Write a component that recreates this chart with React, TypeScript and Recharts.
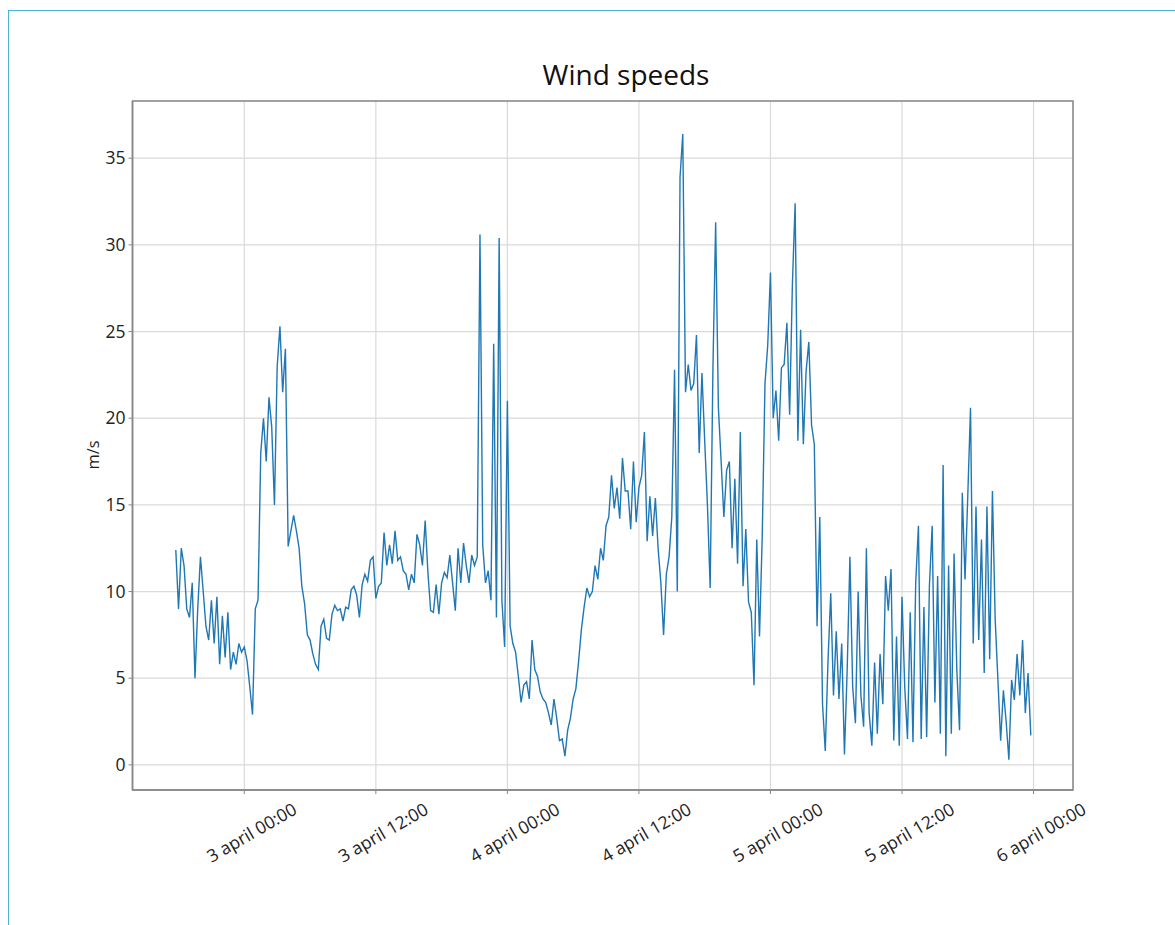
import { CartesianGrid, Line, LineChart, ReferenceArea, XAxis, YAxis } from "recharts";

// wind speed samples, one every 15 minutes, hours counted from 3 april 00:00
const startHour = -6.25;
const stepHours = 0.25;

const apr2Evening = [
  12.4, 9.0, 12.5, 11.5, 9.0, 8.5, 10.5, 5.0, 9.0, 12.0, 10.0, 8.0, 7.2, 9.5, 7.0, 9.7,
  5.8, 8.6, 6.2, 8.8, 5.5, 6.5, 5.8, 7.0, 6.5,
];
const apr3Am = [
  6.8, 6.0, 4.5, 2.9, 9.0, 9.5, 18, 20, 17.5, 21.2, 19.5, 15, 23, 25.3, 21.5, 24,
  12.6, 13.5, 14.4, 13.5, 12.5, 10.3, 9.3, 7.5, 7.2, 6.4, 5.8, 5.5, 8, 8.4, 7.3, 7.2,
  8.7, 9.2, 8.9, 9.0, 8.3, 9.1, 9.0, 10.1, 10.3, 9.8, 8.5, 10.4, 11, 10.6, 11.8, 12,
];
const apr3Pm = [
  9.6, 10.3, 10.5, 13.4, 11.5, 12.7, 11.6, 13.5, 11.8, 12, 11.2, 11.0, 10.1, 11, 10.5, 13.3,
  12.7, 11.5, 14.1, 11.1, 8.9, 8.8, 10.4, 8.7, 10.5, 11.1, 10.8, 12.1, 10.5, 8.9, 12.5, 10.5,
  12.8, 11.5, 10.5, 12.1, 11.5, 12, 30.6, 12.7, 10.5, 11.2, 9.5, 24.3, 8.5, 30.4, 9.5, 6.8,
];
const apr4Am = [
  21, 8, 7.0, 6.5, 5.1, 3.6, 4.6, 4.8, 3.8, 7.2, 5.5, 5.1, 4.2, 3.8, 3.6, 3.0,
  2.3, 3.8, 2.7, 1.4, 1.5, 0.5, 2.0, 2.7, 3.8, 4.4, 6.0, 7.8, 9.1, 10.2, 9.7, 10,
  11.5, 10.7, 12.5, 11.8, 13.8, 14.3, 16.7, 14.8, 16, 14.2, 17.7, 15.8, 15.8, 13.6, 17.5, 14,
];
const apr4Pm = [
  16, 16.7, 19.2, 12.9, 15.5, 13.2, 15.4, 12.5, 10.5, 7.5, 11, 12, 14.3, 22.8, 10, 33.9,
  36.4, 21.5, 23.1, 21.6, 22, 24.8, 18, 22.6, 18.7, 15, 10.2, 22.8, 31.3, 20.6, 17.5, 14.3,
  17, 17.5, 12.5, 16.5, 11.6, 19.2, 10.3, 13.6, 9.4, 8.8, 4.6, 13, 7.4, 13.2, 22, 24.2,
];
const apr5Am = [
  28.4, 20, 21.6, 18.7, 22.9, 23.1, 25.5, 20.2, 27.7, 32.4, 18.7, 25.1, 18.5, 22.7, 24.4, 19.6,
  18.5, 8, 14.3, 3.5, 0.8, 6, 9.9, 4, 7.7, 3.8, 7, 0.6, 5.5, 12, 4.5, 2.4,
  10, 4, 2.2, 12.5, 3, 1.1, 5.9, 1.8, 6.4, 3.5, 10.9, 8.9, 11.3, 1.4, 7.4, 1.1,
];
const apr5Pm = [
  9.7, 4.5, 1.5, 8.8, 1.3, 10.5, 13.8, 1.5, 9.1, 1.6, 10.3, 13.8, 3.6, 10.9, 1.8, 17.3,
  0.5, 11.5, 1.8, 12.2, 5.5, 2, 15.7, 10.7, 15.5, 20.6, 7, 14.9, 7.2, 13, 5.3, 14.9,
  6.1, 15.8, 8.4, 4.9, 1.4, 4.3, 2.5, 0.3, 4.9, 3.75, 6.4, 4, 7.2, 3, 5.3, 1.7,
];

const tickHours = [0, 12, 24, 36, 48, 60, 72];
const tickLabels = [
  "3 april 00:00",
  "3 april 12:00",
  "4 april 00:00",
  "4 april 12:00",
  "5 april 00:00",
  "5 april 12:00",
  "6 april 00:00",
];
const speedTicks = [0, 5, 10, 15, 20, 25, 30, 35];

const xDomain = [-10.2, 75.6];
const yDomain = [-1.45, 38.3];

const speeds = [...apr2Evening, ...apr3Am, ...apr3Pm, ...apr4Am, ...apr4Pm, ...apr5Am, ...apr5Pm];
const data = speeds.map((v, i) => ({ h: startHour + i * stepHours, speed: v }));

const font = "'Open Sans', 'DejaVu Sans', sans-serif";

const DateTick = ({ x, y, payload }: any) => {
  const label = tickLabels[tickHours.indexOf(payload.value)];
  const cx = x + 7;
  const cy = y + 36;
  return (
    <text
      x={cx}
      y={cy}
      transform={`rotate(-30, ${cx}, ${cy})`}
      textAnchor="middle"
      dominantBaseline="central"
      fontSize={17.5}
      fontFamily={font}
      fill="#222"
    >
      {label}
    </text>
  );
};

const App = () => {
  return (
    <div style={{ position: "absolute", left: 0, top: 0, width: 1175, height: 925, background: "#fff" }}>
      <div
        style={{
          position: "absolute",
          left: 8,
          top: 10,
          right: 0,
          bottom: 0,
          borderTop: "1.5px solid #4fb0d8",
          borderLeft: "1.5px solid #4fb0d8",
        }}
      />
      <div
        style={{
          position: "absolute",
          left: 0,
          width: 1252,
          top: 57,
          height: 34,
          lineHeight: "34px",
          textAlign: "center",
          fontFamily: font,
          fontSize: 28,
          color: "#111",
        }}
      >
        Wind speeds
      </div>
      <div
        style={{
          position: "absolute",
          left: 92,
          top: 455,
          transform: "translate(-50%, -50%) rotate(-90deg)",
          fontFamily: font,
          fontSize: 16.5,
          color: "#222",
          whiteSpace: "nowrap",
        }}
      >
        m/s
      </div>
      <LineChart
        width={1175}
        height={925}
        data={data}
        margin={{ top: 101, right: 102, bottom: 0, left: 0 }}
        style={{ position: "absolute", left: 0, top: 0 }}
      >
        <CartesianGrid stroke="#dadada" strokeWidth={1.2} />
        <XAxis
          dataKey="h"
          type="number"
          domain={xDomain}
          ticks={tickHours}
          allowDataOverflow
          height={135}
          tick={<DateTick />}
          tickSize={4}
          tickLine={{ stroke: "#888" }}
          axisLine={{ stroke: "#888", strokeWidth: 1.5 }}
        />
        <YAxis
          type="number"
          domain={yDomain}
          ticks={speedTicks}
          allowDataOverflow
          width={132.5}
          tickSize={4}
          tickMargin={3}
          tickLine={{ stroke: "#888" }}
          axisLine={{ stroke: "#888", strokeWidth: 1.5 }}
          tick={{ fontSize: 17.5, fontFamily: font, fill: "#222" }}
        />
        <ReferenceArea
          x1={xDomain[0]}
          x2={xDomain[1]}
          y1={yDomain[0]}
          y2={yDomain[1]}
          fill="none"
          stroke="#888"
          strokeWidth={1.5}
        />
        <Line
          type="linear"
          dataKey="speed"
          stroke="#1f77b4"
          strokeWidth={1.4}
          dot={false}
          isAnimationActive={false}
        />
      </LineChart>
    </div>
  );
};

export default App;
